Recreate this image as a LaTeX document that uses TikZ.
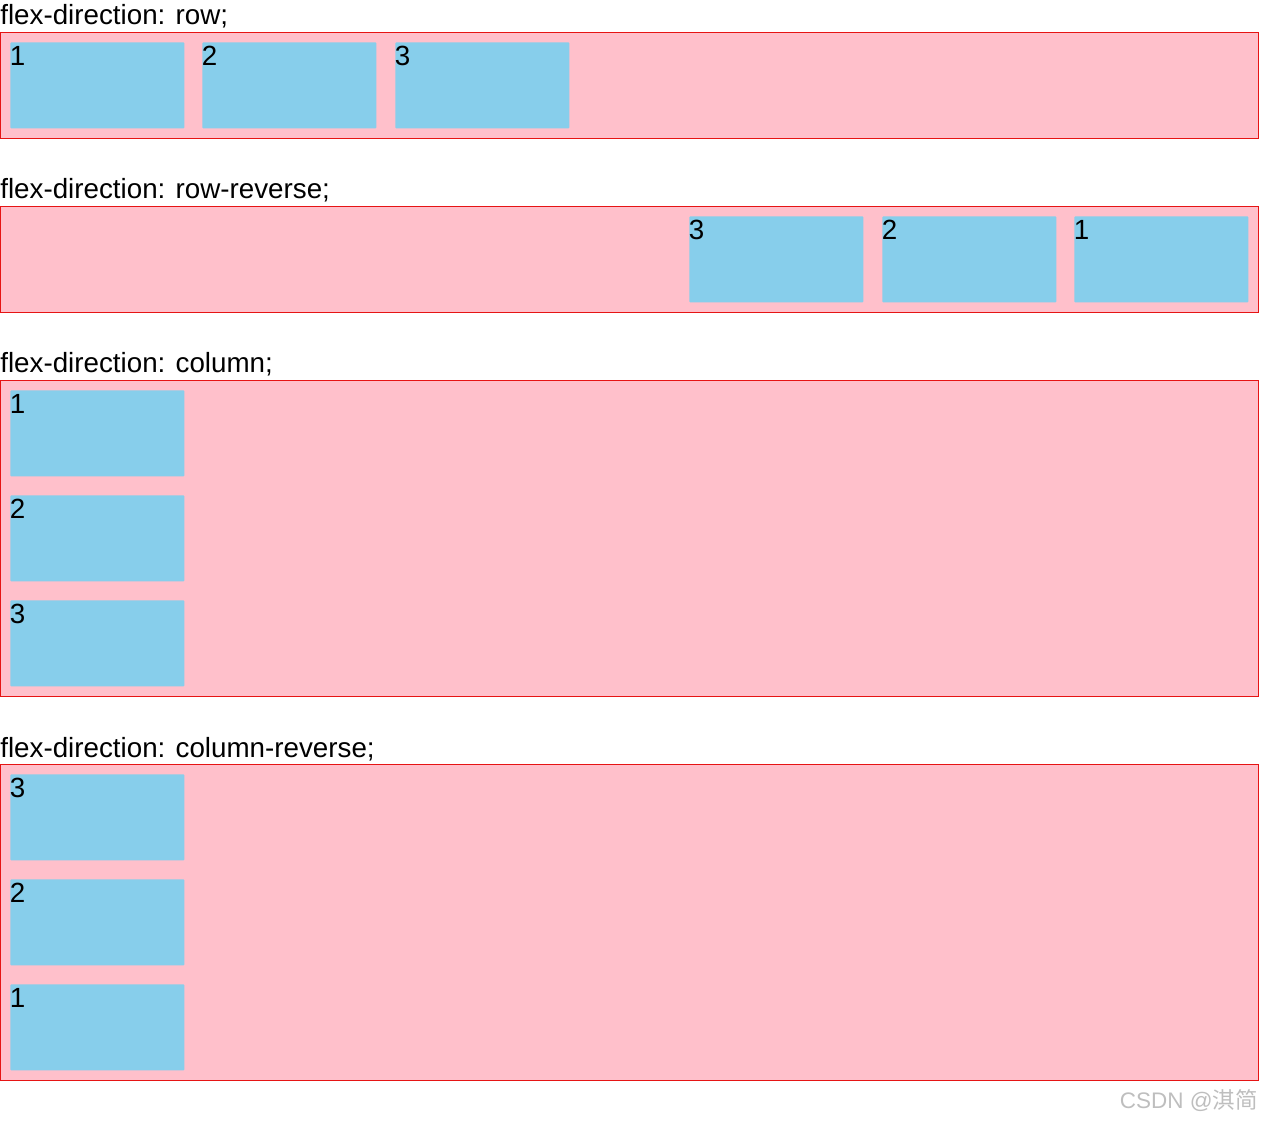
\documentclass[tikz,border=0pt]{standalone}
\usepackage{fontspec}
\setmainfont{Liberation Sans}
\newfontfamily\cjk{Noto Sans CJK SC}
\usepackage{xcolor}
\definecolor{flexpink}{RGB}{255,192,203}
\definecolor{flexred}{RGB}{230,20,20}
\definecolor{skyblue}{RGB}{135,206,235}
\definecolor{markgray}{RGB}{190,190,190}

\begin{document}
\begin{tikzpicture}[x=0.02cm, y=-0.02cm,
    title/.style={anchor=base west, inner sep=0, font=\fontsize{15.8}{19}\selectfont},
    frame/.style={draw=flexred, fill=flexpink, line width=0.02cm},
    item/.style={fill=skyblue, anchor=north west, inner sep=0,
                 minimum width=3.48cm, minimum height=1.72cm, rounded corners=0.5pt},
    num/.style={anchor=north west, inner sep=0, xshift=-0.01cm, yshift=-0.08cm,
                font=\fontsize{15.8}{19}\selectfont}
]
\useasboundingbox (0,0) rectangle (1263,1121);

% row
\node[title] (trow) at (0,25) {flex-direction: row;};
\draw[frame] (0.5,32.5) rectangle (1258.5,138.5);
\node[item, label={[num]north west:1}] (row1) at (10,42) {};
\node[item, label={[num]north west:2}] (row2) at (202,42) {};
\node[item, label={[num]north west:3}] (row3) at (395,42) {};

% row-reverse
\node[title] (trrev) at (0,199) {flex-direction: row-reverse;};
\draw[frame] (0.5,206.5) rectangle (1258.5,312.5);
\node[item, label={[num]north west:3}] (rrev3) at (689,216) {};
\node[item, label={[num]north west:2}] (rrev2) at (882,216) {};
\node[item, label={[num]north west:1}] (rrev1) at (1074,216) {};

% column
\node[title] (tcol) at (0,373) {flex-direction: column;};
\draw[frame] (0.5,380.5) rectangle (1258.5,696.5);
\node[item, label={[num]north west:1}] (col1) at (10,390) {};
\node[item, label={[num]north west:2}] (col2) at (10,495) {};
\node[item, label={[num]north west:3}] (col3) at (10,600) {};

% column-reverse
\node[title] (tcrev) at (0,757) {flex-direction: column-reverse;};
\draw[frame] (0.5,764.5) rectangle (1258.5,1080.5);
\node[item, label={[num]north west:3}] (crev3) at (10,774) {};
\node[item, label={[num]north west:2}] (crev2) at (10,879) {};
\node[item, label={[num]north west:1}] (crev1) at (10,984) {};

% watermark
\node[anchor=base east, inner sep=0, text=markgray, font=\fontsize{12.8}{15}\selectfont]
    (mark) at (1258,1108) {CSDN @{\cjk 淇简}};
\end{tikzpicture}
\end{document}
